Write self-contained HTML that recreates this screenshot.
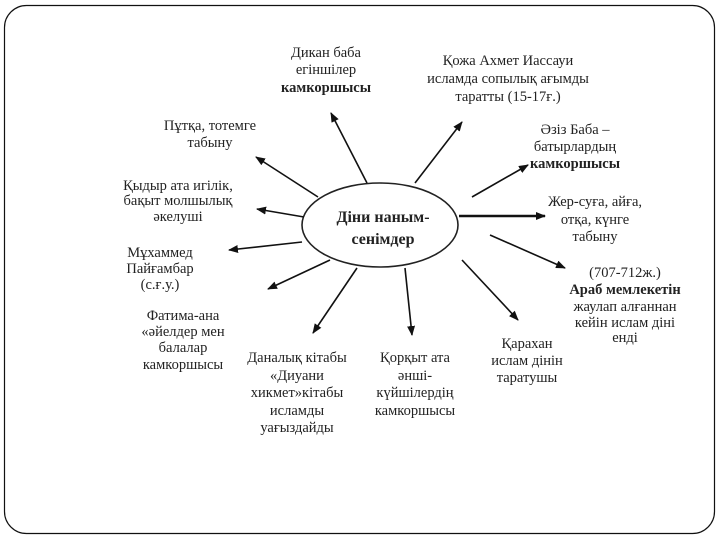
<!DOCTYPE html>
<html><head><meta charset="utf-8"><style>
html,body{margin:0;padding:0;background:#fff;width:720px;height:540px;overflow:hidden}
svg text{font-family:"Liberation Serif",serif;font-size:14.5px;fill:#222;text-anchor:middle}
.b{font-weight:bold}
</style></head><body>
<svg width="720" height="540" xmlns="http://www.w3.org/2000/svg">
<defs><marker id="a" markerWidth="10" markerHeight="8" refX="9" refY="4" orient="auto" markerUnits="userSpaceOnUse"><path d="M0,0 L10,4 L0,8 z" fill="#111"/></marker></defs>
<rect x="4.5" y="5.5" width="710" height="528" rx="22" fill="none" stroke="#111" stroke-width="1.2"/>
<ellipse cx="380" cy="225" rx="78" ry="42" fill="#fff" stroke="#222" stroke-width="1.6"/>
<text x="383" y="222" class="b" style="font-size:16px">Діни наным-</text>
<text x="383" y="244" class="b" style="font-size:16px">сенімдер</text>
<g stroke="#111" stroke-width="1.6" marker-end="url(#a)">
<line x1="367" y1="183" x2="331" y2="113"/>
<line x1="318" y1="197" x2="256" y2="157"/>
<line x1="304" y1="217" x2="257" y2="209"/>
<line x1="302" y1="242" x2="229" y2="250"/>
<line x1="330" y1="260" x2="268" y2="289"/>
<line x1="357" y1="268" x2="313" y2="333"/>
<line x1="405" y1="268" x2="412" y2="335"/>
<line x1="462" y1="260" x2="518" y2="320"/>
<line x1="490" y1="235" x2="565" y2="268"/>
<line x1="459" y1="216" x2="545" y2="216" stroke-width="2.4"/>
<line x1="472" y1="197" x2="528" y2="165"/>
<line x1="415" y1="183" x2="462" y2="122"/>
</g>
<text x="326" y="57">Дикан баба</text><text x="326" y="74">егіншілер</text><text x="326" y="92" class="b">камкоршысы</text>
<text x="508" y="65">Қожа Ахмет Иассауи</text><text x="508" y="83">исламда сопылық ағымды</text><text x="508" y="101">таратты (15-17ғ.)</text>
<text x="575" y="134">Әзіз Баба –</text><text x="575" y="151">батырлардың</text><text x="575" y="168" class="b">камкоршысы</text>
<text x="595" y="206">Жер-суға, айға,</text><text x="595" y="224">отқа, күнге</text><text x="595" y="241">табыну</text>
<text x="625" y="277">(707-712ж.)</text><text x="625" y="294" class="b">Араб мемлекетін</text><text x="625" y="311">жаулап алғаннан</text><text x="625" y="327">кейін ислам діні</text><text x="625" y="342">енді</text>
<text x="210" y="130">Пұтқа, тотемге</text><text x="210" y="147">табыну</text>
<text x="178" y="190">Қыдыр ата игілік,</text><text x="178" y="205">бақыт  молшылық</text><text x="178" y="221">әкелуші</text>
<text x="160" y="257">Мұхаммед</text><text x="160" y="273">Пайғамбар</text><text x="160" y="289">(с.ғ.у.)</text>
<text x="183" y="320">Фатима-ана</text><text x="183" y="336">«әйелдер мен</text><text x="183" y="352">балалар</text><text x="183" y="369">камкоршысы</text>
<text x="297" y="362">Даналық кітабы</text><text x="297" y="380">«Диуани</text><text x="297" y="397">хикмет»кітабы</text><text x="297" y="415">исламды</text><text x="297" y="432">уағыздайды</text>
<text x="415" y="362">Қорқыт ата</text><text x="415" y="380">әнші-</text><text x="415" y="397">күйшілердің</text><text x="415" y="415">камкоршысы</text>
<text x="527" y="348">Қарахан</text><text x="527" y="365">ислам дінін</text><text x="527" y="382">таратушы</text>
</svg>
</body></html>
